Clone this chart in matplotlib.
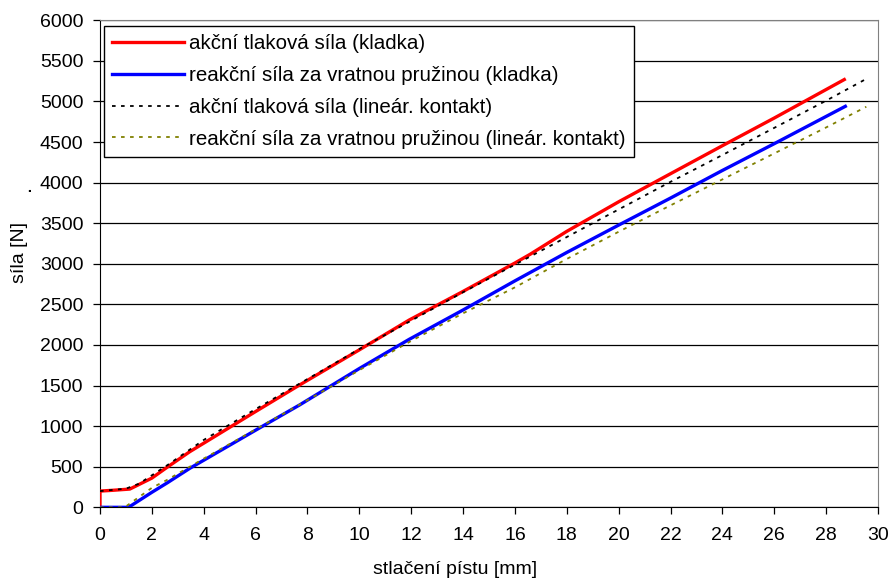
import matplotlib
matplotlib.use("Agg")
import matplotlib.pyplot as plt

plt.rcParams['font.family'] = ['Liberation Sans', 'DejaVu Sans']

# akční tlaková síla (kladka)
x_red = [0, 0, 0.5, 1.15, 2.0, 2.6, 3.46, 4.0, 6.0, 7.69, 10.0, 11.92, 14.0, 16.0, 16.6, 18.0, 20.0, 22.0, 24.0, 26.0, 28.7]
y_red = [0, 200, 210, 225, 360, 496, 685, 790, 1180, 1506, 1940, 2307, 2660, 3010, 3120, 3400, 3764, 4110, 4455, 4796, 5270]

# reakční síla za vratnou pružinou (kladka)
x_blue = [0, 1.1, 2.0, 2.6, 3.46, 6.0, 7.69, 10.0, 11.92, 14.0, 16.0, 18.0, 20.0, 22.0, 24.0, 26.0, 28.74]
y_blue = [0, 0, 185, 303, 480, 950, 1260, 1710, 2069, 2431, 2790, 3140, 3477, 3810, 4150, 4480, 4940]

# akční tlaková síla (lineár. kontakt)
x_black = [0, 1.0, 1.5, 2.6, 4.0, 6.0, 8.0, 10.0, 12.0, 14.0, 16.0, 18.0, 20.0, 22.0, 24.0, 26.0, 28.0, 29.5]
y_black = [200, 230, 290, 520, 830, 1210, 1580, 1950, 2300, 2650, 2990, 3330, 3670, 4010, 4340, 4675, 5010, 5270]

# reakční síla za vratnou pružinou (lineár. kontakt)
x_olive = [0, 0.95, 2.0, 2.6, 4.0, 6.0, 8.0, 10.0, 12.0, 14.0, 16.0, 18.0, 20.0, 22.0, 24.0, 26.0, 28.0, 29.55]
y_olive = [0, 0, 240, 340, 600, 960, 1320, 1690, 2050, 2390, 2710, 3060, 3395, 3720, 4040, 4360, 4680, 4935]

fs = 14

fig = plt.figure(figsize=(8.92, 5.8), dpi=100)
ax = fig.add_axes([0.1121, 0.1253, 0.8722, 0.8397])

ax.plot(x_red, y_red, color='#ff0000', lw=2.4, label='akční tlaková síla (kladka)', zorder=4)
ax.plot(x_blue, y_blue, color='#0000ff', lw=2.4, label='reakční síla za vratnou pružinou (kladka)', zorder=4)
ax.plot(x_black, y_black, color='black', lw=1.3, ls=(0, (2, 3)), label='akční tlaková síla (lineár. kontakt)', zorder=5)
ax.plot(x_olive, y_olive, color='#808000', lw=1.3, ls=(0, (2, 3)), label='reakční síla za vratnou pružinou (lineár. kontakt)', zorder=5)

ax.set_xlim(0, 30)
ax.set_ylim(0, 6000)
ax.set_xticks(range(0, 31, 2))
ax.set_yticks(range(0, 6001, 500))
ax.yaxis.grid(True, color='black', lw=0.9)
ax.set_axisbelow(True)
ax.tick_params(labelsize=fs, length=5, width=0.9, direction='out', colors='black')
ax.tick_params(axis='x', pad=9.5)
ax.tick_params(axis='y', pad=7)

for s in ['top', 'right']:
    ax.spines[s].set_color('#808080')
for s in ['left', 'bottom']:
    ax.spines[s].set_color('black')

ax.set_xlabel('stlačení pístu [mm]', fontsize=fs)
ax.xaxis.set_label_coords(0.456, -0.11)
ax.set_ylabel('síla [N]', fontsize=fs)
ax.yaxis.set_label_coords(-0.092, 0.524)
fig.text(24 / 892, 1 - 188 / 580, '.', fontsize=fs + 2, rotation=90, ha='center', va='center')

leg = ax.legend(loc='upper left', bbox_to_anchor=(0.005, 0.988), borderaxespad=0,
                fancybox=False, edgecolor='black', framealpha=1, fontsize=14.8,
                handlelength=3.5, handletextpad=0.25, labelspacing=0.62, borderpad=0.4)
leg.get_frame().set_linewidth(1.0)

fig.savefig('out.png', dpi=100)
